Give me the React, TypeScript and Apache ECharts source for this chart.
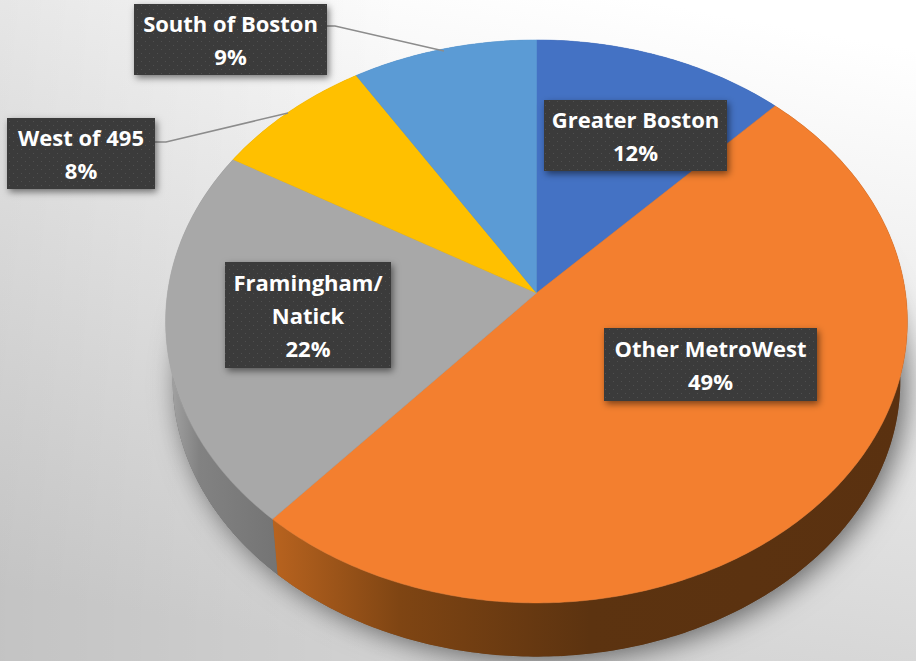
import React, { useEffect, useRef } from "react";
import * as echarts from "echarts";

const categories = ["Greater Boston", "Other MetroWest", "Framingham/\nNatick", "West of 495", "South of Boston"];
const shares = [12.2, 49.3, 21.9, 7.7, 8.9];
const topColors = ["#4472c4", "#f37f2f", "#a8a8a8", "#ffc000", "#5b9bd5"];

// label boxes [x, y, w, h] and optional leader lines, layout only
const labelBoxes = [
  [544, 100, 183, 71],
  [604, 328, 213, 73],
  [225, 262, 166, 106],
  [7, 118, 148, 71],
  [134, 4, 193, 71],
];
const leaders: (number[][] | null)[] = [
  null,
  null,
  null,
  [[155, 142], [166, 142], [288, 113]],
  [[327, 26], [335, 26], [444, 51]],
];

const W = 916;
const H = 661;
const total = shares.reduce((a, b) => a + b, 0);

type Disc = { cx: number; cy: number; A: number; B: number; k: number };
const topDisc: Disc = { cx: 536.5, cy: 293, A: 369, B: 278.6, k: 0.101 };
const baseDisc: Disc = { cx: 536.5, cy: 353, A: 362, B: 273, k: 0.101 };

function pt(d: Disc, pct: number): number[] {
  const a = (pct / 100) * Math.PI * 2;
  const u = Math.sin(a);
  const v = -Math.cos(a);
  const den = 1 - d.k * v;
  return [d.cx + (d.A * u) / den, d.cy + (d.B * v) / den];
}
function arc(d: Disc, from: number, to: number): number[][] {
  const n = Math.max(2, Math.ceil((to - from) * 5));
  const out: number[][] = [];
  for (let i = 0; i <= n; i++) out.push(pt(d, from + ((to - from) * i) / n));
  return out;
}
function bounds(i: number): [number, number] {
  let s = 0;
  for (let j = 0; j < i; j++) s += shares[j];
  return [(s / total) * 100, ((s + shares[i]) / total) * 100];
}

function lin(stops: [number, string][]) {
  return new echarts.graphic.LinearGradient(
    0, 0, 1, 0,
    stops.map(([offset, color]) => ({ offset, color }))
  );
}
const rimFills: any[] = [
  "#2f5597",
  lin([[0, "#b8631f"], [0.2, "#7f4513"], [0.5, "#5c3310"], [1, "#5a3110"]]),
  lin([[0, "#a8a8a8"], [0.3, "#828282"], [1, "#747474"]]),
  "#b38600",
  "#3e75a8",
];

function dots(): HTMLCanvasElement {
  const c = document.createElement("canvas");
  c.width = 8;
  c.height = 8;
  const g = c.getContext("2d")!;
  g.fillStyle = "#3a3a3a";
  g.fillRect(0, 0, 8, 8);
  g.fillStyle = "#505050";
  g.fillRect(1, 1, 1, 1);
  g.fillRect(5, 5, 1, 1);
  return c;
}

export default function App() {
  const ref = useRef<HTMLDivElement>(null);
  useEffect(() => {
    document.body.style.margin = "0";
    const chart = echarts.init(ref.current!, null, { renderer: "svg", width: W, height: H });
    const pattern = { image: dots(), repeat: "repeat", imageWidth: 8, imageHeight: 8 };
    const data = shares.map((value, i) => ({ name: categories[i], value }));

    chart.setOption({
      animation: false,
      graphic: {
        elements: [
          {
            type: "rect", z: -10, silent: true,
            shape: { x: 0, y: 0, width: W, height: H },
            style: {
              fill: new echarts.graphic.LinearGradient(0.7, 0, 0.45, 1, [
                { offset: 0, color: "#ffffff" },
                { offset: 0.5, color: "#e8e8e8" },
                { offset: 1, color: "#d2d2d2" },
              ]),
            },
          },
          {
            type: "rect", z: -9, silent: true,
            shape: { x: 0, y: 0, width: 400, height: H },
            style: {
              fill: new echarts.graphic.LinearGradient(0, 0, 1, 0, [
                { offset: 0, color: "rgba(0,0,0,0.07)" },
                { offset: 1, color: "rgba(0,0,0,0)" },
              ]),
            },
          },
        ],
      },
      series: [
        {
          type: "custom", coordinateSystem: "none", silent: true, z: 1, data,
          renderItem: (p: any) => {
            const i = p.dataIndex;
            const [a, b] = bounds(i);
            const children: any[] = [];
            if (i === 0) {
              children.push({
                type: "polygon",
                shape: { points: arc(baseDisc, 0, 100) },
                style: { fill: "#6b6b6b", shadowBlur: 28, shadowColor: "rgba(0,0,0,0.55)", shadowOffsetX: 6, shadowOffsetY: 4 },
              });
            }
            children.push({
              type: "polygon",
              shape: { points: [...arc(topDisc, a, b), ...arc(baseDisc, a, b).reverse()] },
              style: { fill: rimFills[i] },
            });
            return { type: "group", children };
          },
        },
        {
          type: "custom", coordinateSystem: "none", silent: true, z: 2, data,
          renderItem: (p: any) => {
            const i = p.dataIndex;
            const [a, b] = bounds(i);
            return {
              type: "polygon",
              shape: { points: [[topDisc.cx, topDisc.cy], ...arc(topDisc, a, b)] },
              style: { fill: topColors[i], stroke: topColors[i], lineWidth: 0.5 },
            };
          },
        },
        {
          type: "custom", coordinateSystem: "none", silent: true, z: 3, data,
          renderItem: (p: any, api: any) => {
            const i = p.dataIndex;
            const [x, y, w, h] = labelBoxes[i];
            const children: any[] = [];
            const l = leaders[i];
            if (l) children.push({ type: "polyline", shape: { points: l }, style: { fill: "none", stroke: "#8c8c8c", lineWidth: 1.5 } });
            children.push({
              type: "rect",
              shape: { x, y, width: w, height: h },
              style: { fill: pattern, shadowBlur: 7, shadowColor: "rgba(0,0,0,0.5)", shadowOffsetX: 2, shadowOffsetY: 3 },
            });
            children.push({
              type: "text",
              x: x + w / 2,
              y: y + h / 2,
              style: {
                text: `${categories[i]}\n${Math.round(api.value(0))}%`,
                fill: "#ffffff",
                font: '700 22px "Open Sans"',
                lineHeight: 33,
                align: "center",
                verticalAlign: "middle",
              },
            });
            return { type: "group", children };
          },
        },
      ],
    });
    return () => chart.dispose();
  }, []);
  return <div ref={ref} style={{ width: W, height: H }} />;
}
